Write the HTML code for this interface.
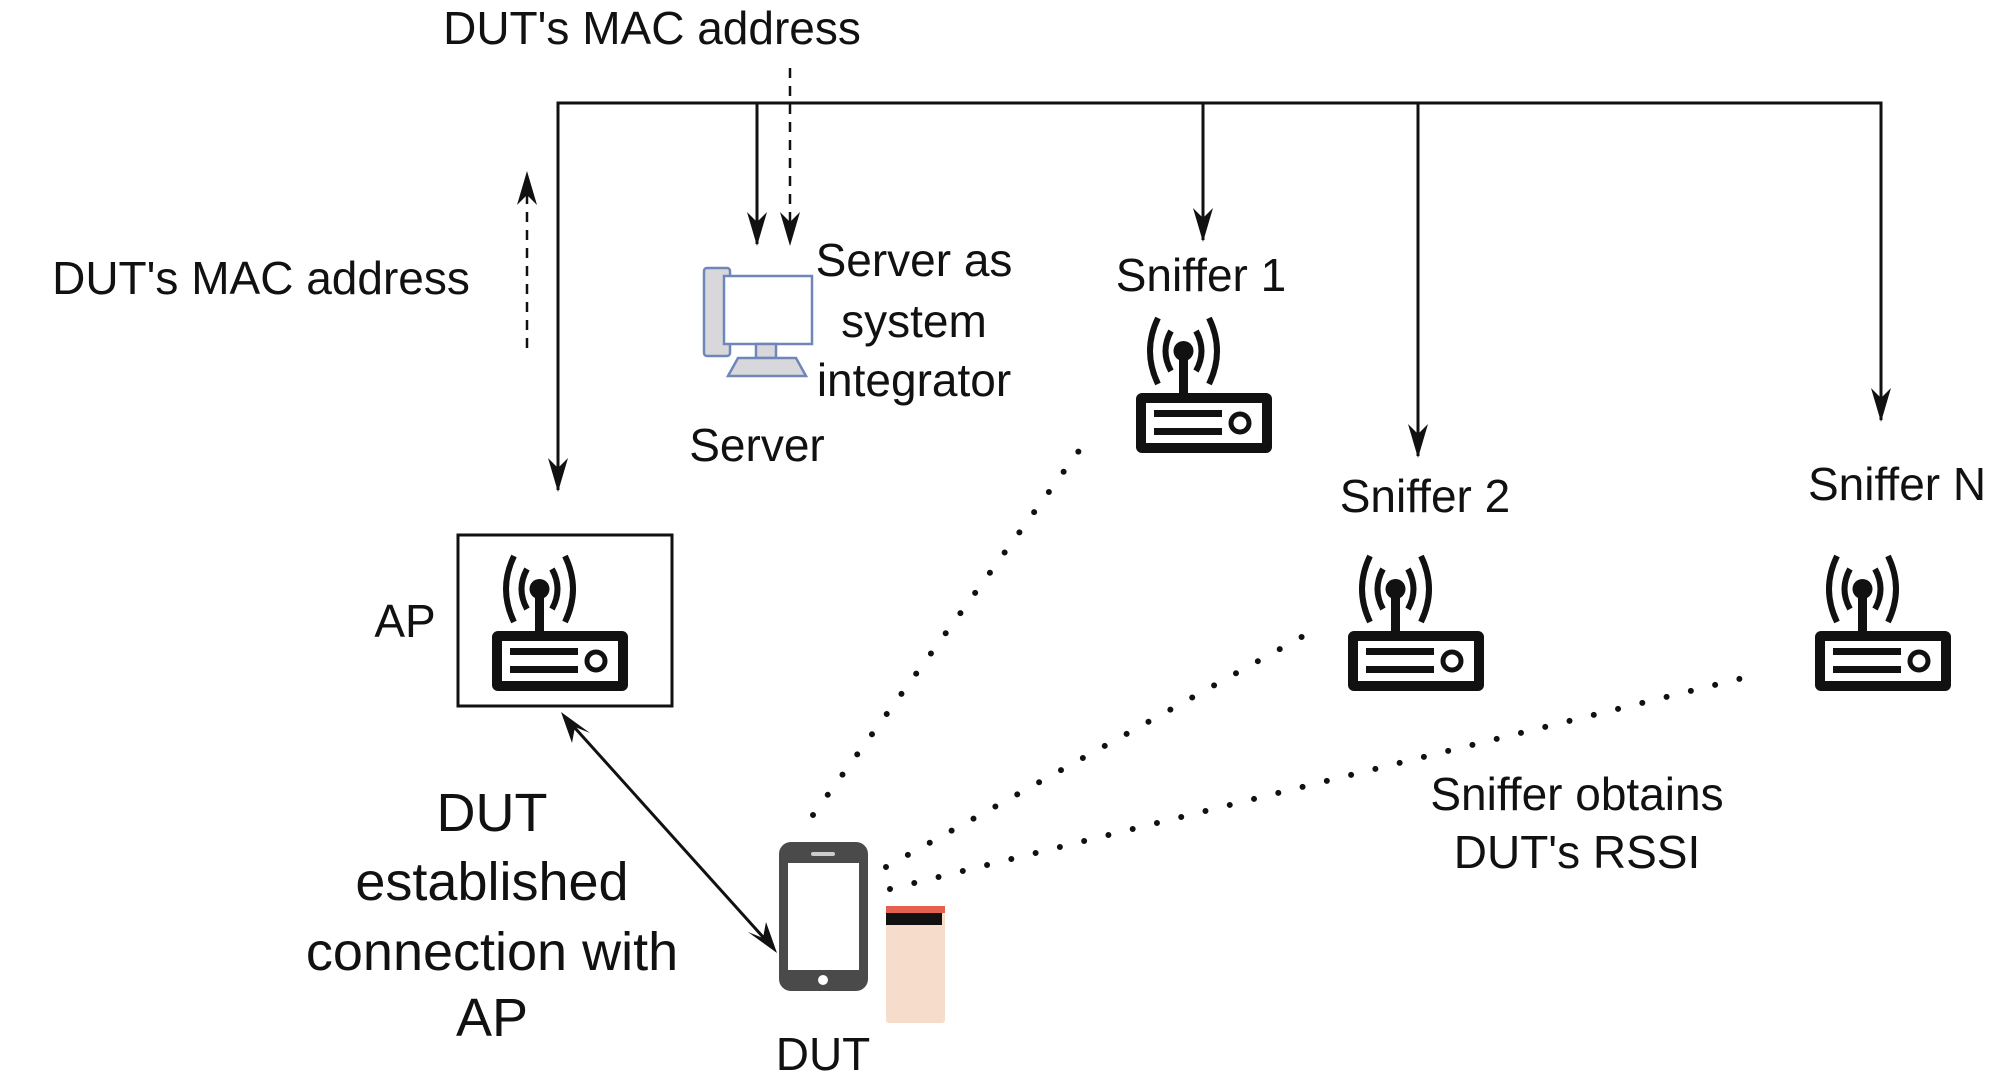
<!DOCTYPE html>
<html><head><meta charset="utf-8"><style>
html,body{margin:0;padding:0;background:#fff;}
svg{display:block;}
text{font-family:"Liberation Sans",Arial,sans-serif;fill:#111;}
</style></head><body>
<svg width="2006" height="1089" viewBox="0 0 2006 1089" xmlns="http://www.w3.org/2000/svg">
<defs>
<g id="router">
<rect x="0" y="75" width="136" height="60" rx="6" fill="#111"/>
<rect x="10" y="85" width="116" height="40" fill="#fff"/>
<rect x="18" y="92" width="68" height="7" fill="#111"/>
<rect x="18" y="110" width="68" height="7" fill="#111"/>
<circle cx="104" cy="105" r="9" fill="none" stroke="#111" stroke-width="5"/>
<rect x="43" y="32" width="9" height="45" fill="#111"/>
<circle cx="47.5" cy="33" r="10" fill="#111"/>
<path d="M35,13 Q24,33 35,53" fill="none" stroke="#111" stroke-width="6"/>
<path d="M60,13 Q71,33 60,53" fill="none" stroke="#111" stroke-width="6"/>
<path d="M22,0 Q6,33 22,66" fill="none" stroke="#111" stroke-width="6"/>
<path d="M73,0 Q89,33 73,66" fill="none" stroke="#111" stroke-width="6"/>
</g>
</defs>

<g stroke="#111" stroke-width="3" fill="none">
<path d="M558,490 L558,103 L1881,103 L1881,420"/>
<line x1="757" y1="103" x2="757" y2="244"/>
<line x1="1203" y1="103" x2="1203" y2="240"/>
<line x1="1418" y1="103" x2="1418" y2="456"/>
</g>
<g fill="#111">
<path d="M558,492 L548,458 L558,468 L568,458 z"/>
<path d="M757,246 L747,212 L757,222 L767,212 z"/>
<path d="M1203,242 L1193,208 L1203,218 L1213,208 z"/>
<path d="M1418,458 L1408,424 L1418,434 L1428,424 z"/>
<path d="M1881,422 L1871,388 L1881,398 L1891,388 z"/>
<path d="M790,246 L780,212 L790,222 L800,212 z"/>
<path d="M527,171 L517,205 L527,195 L537,205 z"/>
</g>
<g stroke="#111" stroke-width="2.5" stroke-dasharray="10,8" fill="none">
<line x1="790" y1="68" x2="790" y2="222"/>
<line x1="527" y1="348" x2="527" y2="195"/>
</g>

<text x="652" y="44" font-size="46" text-anchor="middle">DUT's MAC address</text>
<text x="261" y="294" font-size="46" text-anchor="middle">DUT's MAC address</text>

<g stroke="#6f86b8" stroke-width="2.5">
<rect x="704" y="268" width="26" height="88" rx="3" fill="#d8d8dc"/>
<rect x="724" y="276" width="88" height="68" fill="#fff"/>
<rect x="756" y="344" width="20" height="14" fill="#d8d8dc"/>
<path d="M738,358 L796,358 L806,376 L728,376 z" fill="#d8d8dc"/>
</g>
<text font-size="46" text-anchor="middle"><tspan x="914" y="276">Server as</tspan><tspan x="914" y="337">system</tspan><tspan x="914" y="396">integrator</tspan></text>
<text x="757" y="461" font-size="46" text-anchor="middle">Server</text>

<text x="1201" y="291" font-size="46" text-anchor="middle">Sniffer 1</text>
<use href="#router" x="1136" y="318"/>
<text x="1425" y="512" font-size="46" text-anchor="middle">Sniffer 2</text>
<use href="#router" x="1348" y="556"/>
<text x="1808" y="500" font-size="46">Sniffer N</text>
<use href="#router" x="1815" y="556"/>

<rect x="458" y="535" width="214" height="171" fill="none" stroke="#111" stroke-width="3"/>
<use href="#router" x="492" y="556"/>
<text x="405" y="637" font-size="46" text-anchor="middle">AP</text>

<line x1="566" y1="718" x2="772" y2="947" stroke="#111" stroke-width="3"/>
<path d="M561,712 L590,733 L575,727 L572,743 z" fill="#111"/>
<path d="M777,953 L748,932 L763,938 L766,922 z" fill="#111"/>

<text font-size="54" text-anchor="middle"><tspan x="492" y="831">DUT</tspan><tspan x="492" y="900">established</tspan><tspan x="492" y="970">connection with</tspan><tspan x="492" y="1036">AP</tspan></text>

<rect x="779" y="842" width="89" height="149" rx="12" fill="#4a4a4a"/>
<rect x="788" y="863" width="71" height="107" fill="#fff"/>
<rect x="811" y="852" width="24" height="4" rx="2" fill="#ccc"/>
<circle cx="823" cy="980" r="5" fill="#fff"/>
<rect x="886" y="906" width="59" height="117" rx="3" fill="#f6dccb"/>
<rect x="886" y="906" width="59" height="7" fill="#e56050"/>
<rect x="886" y="913" width="56" height="12" fill="#111"/>
<text x="823" y="1070" font-size="46" text-anchor="middle">DUT</text>

<g stroke="#111" stroke-width="6" stroke-linecap="round" stroke-dasharray="0,25" fill="none">
<line x1="813" y1="815" x2="1089" y2="437"/>
<line x1="886" y1="867" x2="1316" y2="629"/>
<line x1="890" y1="889" x2="1759" y2="674"/>
</g>

<text font-size="46" text-anchor="middle"><tspan x="1577" y="810">Sniffer obtains</tspan><tspan x="1577" y="868">DUT's RSSI</tspan></text>
</svg>
</body></html>
